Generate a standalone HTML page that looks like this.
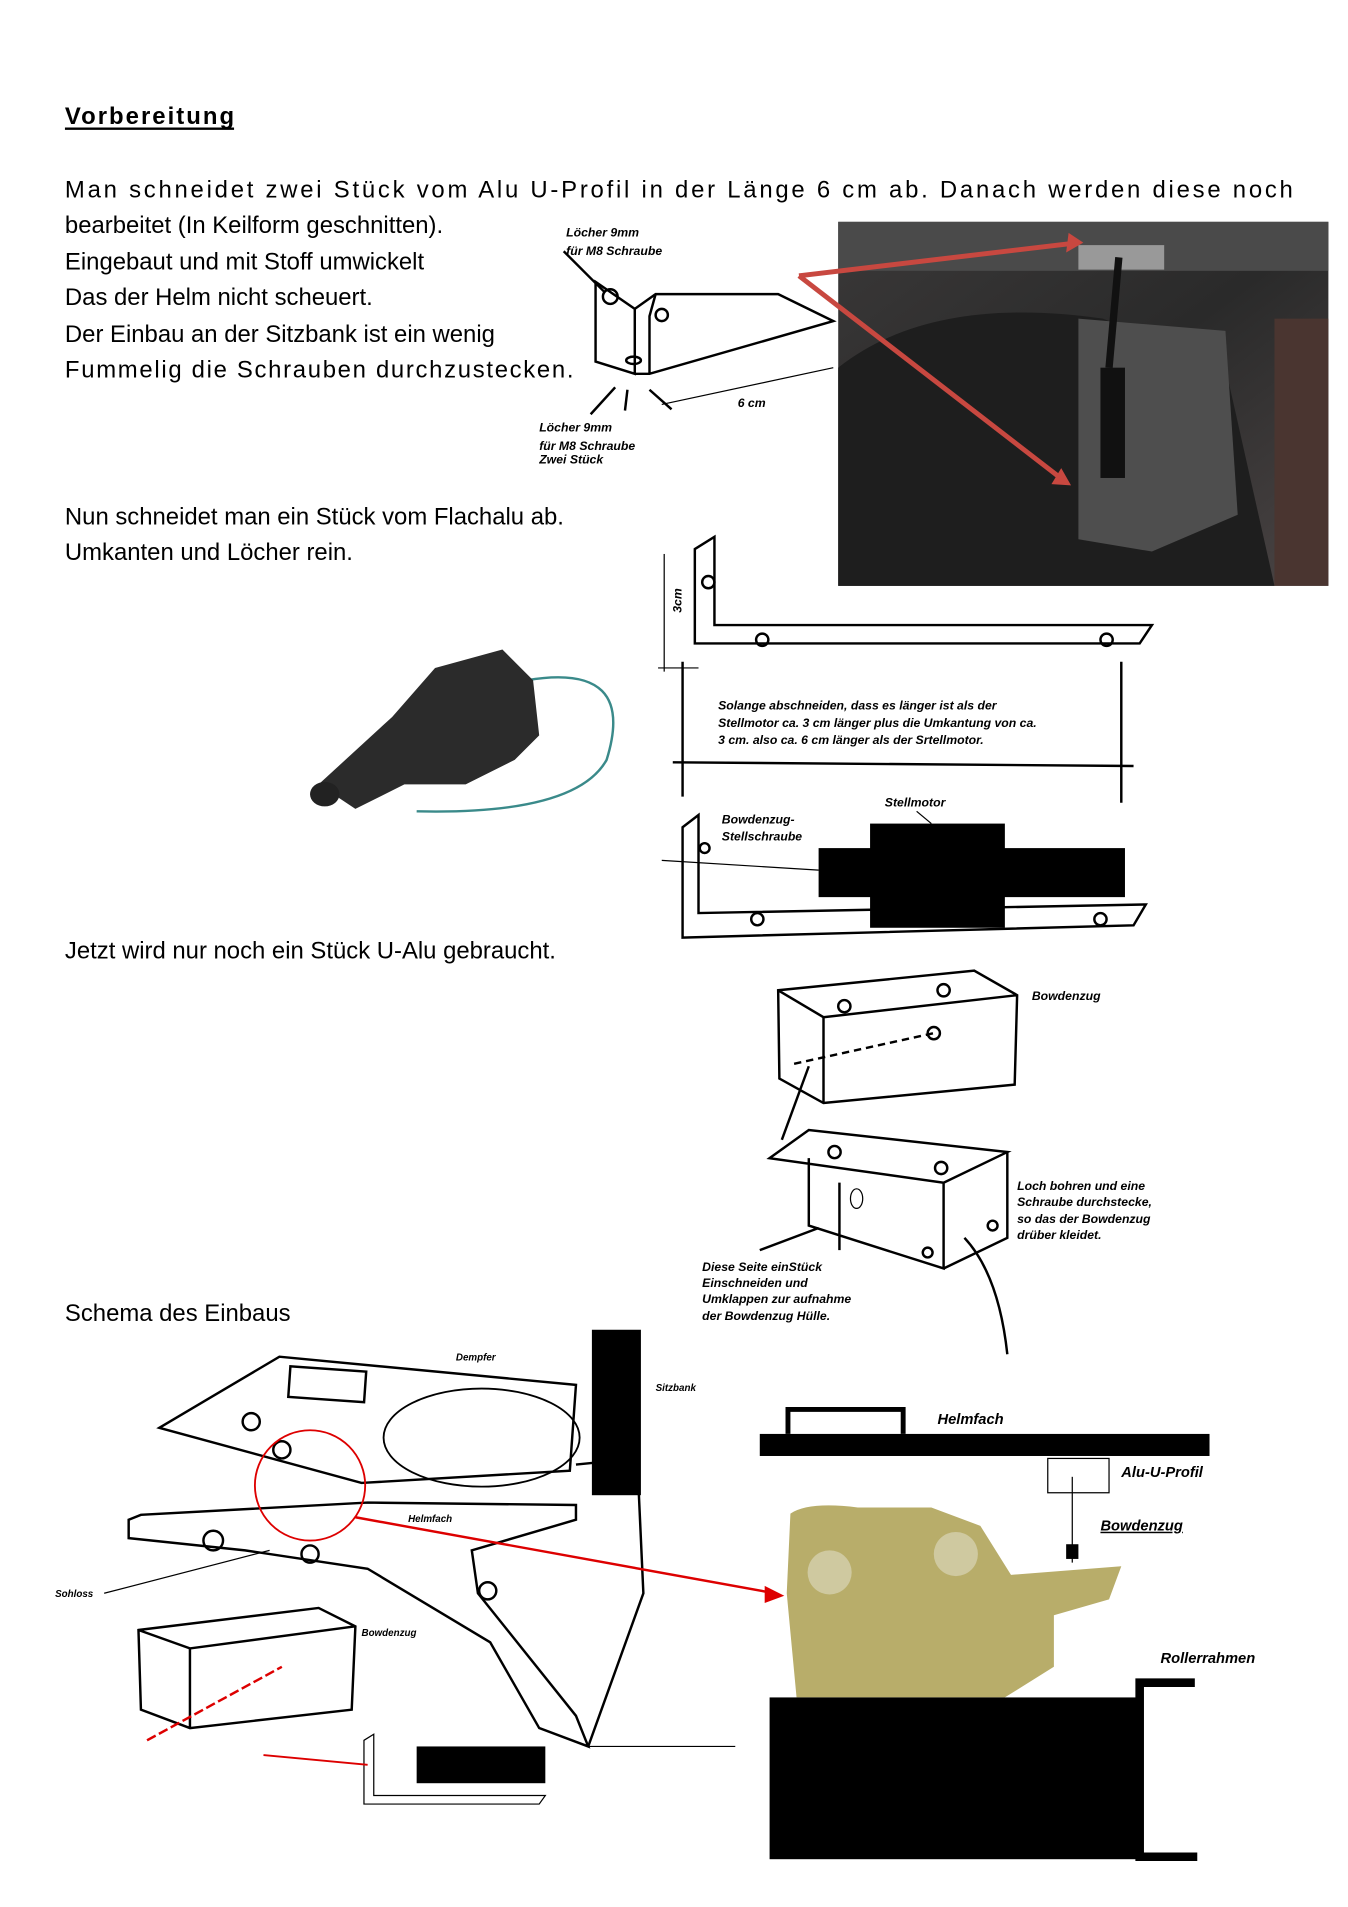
<!DOCTYPE html>
<html><head><meta charset="utf-8"><style>
html,body{margin:0;padding:0;background:#fff}
svg{display:block}
.t{font-family:"Liberation Sans",sans-serif;font-size:19.5px;fill:#000}
.s{font-family:"Liberation Sans",sans-serif;font-size:10px;font-weight:bold;font-style:italic;fill:#000}
.ln{fill:none;stroke:#000;stroke-width:2}
.th{fill:none;stroke:#000;stroke-width:1}
</style></head><body>
<svg width="1348" height="1907" viewBox="0 0 1100 1556" preserveAspectRatio="none" xmlns="http://www.w3.org/2000/svg">
<rect width="1100" height="1556" fill="#fff"/>
<text x="53" y="101" class="t" style="font-weight:bold" textLength="138">Vorbereitung</text>
<line x1="53" y1="105" x2="191" y2="105" stroke="#000" stroke-width="2"/>
<text x="53" y="161" class="t" textLength="1002" lengthAdjust="spacing">Man schneidet zwei Stück vom Alu U-Profil in der Länge 6 cm ab. Danach werden diese noch</text>
<text x="53" y="190" class="t">bearbeitet (In Keilform geschnitten).</text>
<text x="53" y="220" class="t">Eingebaut und mit Stoff umwickelt</text>
<text x="53" y="249" class="t">Das der Helm nicht scheuert.</text>
<text x="53" y="279" class="t">Der Einbau an der Sitzbank ist ein wenig</text>
<text x="53" y="308" class="t" textLength="415">Fummelig die Schrauben durchzustecken.</text>
<text x="462" y="193" class="s">Löcher 9mm</text><text x="462" y="208" class="s">für M8 Schraube</text>
<path class="ln" d="M486 230 L486 295 L518 305 L518 252 Z M518 252 L535 240 L635 240 L680 262 L530 305 L518 305 M530 305 L530 258 L535 240"/>
<circle cx="498" cy="242" r="6" class="ln"/><circle cx="540" cy="257" r="5" class="ln"/><ellipse cx="517" cy="294" rx="6" ry="3" class="ln"/>
<line x1="460" y1="205" x2="493" y2="238" class="ln"/>
<line x1="482" y1="338" x2="502" y2="316" class="ln"/><line x1="510" y1="335" x2="512" y2="318" class="ln"/>
<line x1="530" y1="318" x2="548" y2="334" class="ln"/><line x1="540" y1="330" x2="680" y2="300" class="th"/>
<text x="602" y="332" class="s">6 cm</text>
<text x="440" y="352" class="s">Löcher 9mm</text><text x="440" y="367" class="s">für M8 Schraube</text><text x="440" y="378" class="s">Zwei Stück</text>
<defs><linearGradient id="g1" x1="0" y1="0" x2="1" y2="1"><stop offset="0" stop-color="#3a3838"/><stop offset=".5" stop-color="#2a2a2a"/><stop offset="1" stop-color="#4a4444"/></linearGradient></defs>
<rect x="684" y="181" width="400" height="297" fill="url(#g1)"/>
<rect x="684" y="181" width="400" height="40" fill="#4a4a4a"/>
<path d="M684 300 Q760 240 900 260 L1000 300 L1040 478 L684 478Z" fill="#1e1e1e"/>
<path d="M880 260 L1000 270 L1010 420 L940 450 L880 440Z" fill="#4e4e4e"/>
<rect x="1040" y="260" width="44" height="218" fill="#4a3530"/>
<rect x="880" y="200" width="70" height="20" fill="#999"/>
<rect x="898" y="300" width="20" height="90" fill="#111"/>
<line x1="913" y1="210" x2="905" y2="300" stroke="#111" stroke-width="6"/>
<path d="M652 225 L880 198" stroke="#c84840" stroke-width="4"/><path d="M652 225 L868 392" stroke="#c84840" stroke-width="4"/>
<path d="M872 190 L884 198 L870 206Z M858 395 L874 396 L866 382Z" fill="#c84840"/>
<text x="53" y="428" class="t">Nun schneidet man ein Stück vom Flachalu ab.</text>
<text x="53" y="457" class="t">Umkanten und Löcher rein.</text>
<path d="M430 555 Q520 540 495 620 Q470 665 340 662" fill="none" stroke="#3a8a8a" stroke-width="2"/>
<path d="M260 640 L320 585 L355 545 L410 530 L435 555 L440 600 L420 620 L380 640 L330 640 L290 660 Z" fill="#2b2b2b"/>
<ellipse cx="265" cy="648" rx="12" ry="10" fill="#222"/>
<path class="ln" d="M567 448 L583 438 L583 510 L940 510 L930 525 L567 525 Z M567 448 L567 525"/>
<circle cx="578" cy="475" r="5" class="ln"/><circle cx="622" cy="522" r="5" class="ln"/><circle cx="903" cy="522" r="5" class="ln"/>
<line x1="542" y1="452" x2="542" y2="548" class="th"/><line x1="537" y1="545" x2="570" y2="545" class="th"/>
<text x="556" y="500" class="s" transform="rotate(-90 556 500)">3cm</text>
<line x1="557" y1="540" x2="557" y2="650" class="ln"/><line x1="915" y1="540" x2="915" y2="655" class="ln"/>
<line x1="549" y1="622" x2="925" y2="625" class="ln"/>
<text x="586" y="579" class="s">Solange abschneiden, dass es länger ist als der</text>
<text x="586" y="593" class="s">Stellmotor ca. 3 cm länger plus die Umkantung von ca.</text>
<text x="586" y="607" class="s">3 cm. also ca. 6 cm länger als der Srtellmotor.</text>
<path class="ln" d="M557 675 L570 665 L570 745 L935 738 L925 755 L557 765Z"/>
<circle cx="575" cy="692" r="4" class="ln"/><circle cx="618" cy="750" r="5" class="ln"/><circle cx="898" cy="750" r="5" class="ln"/>
<rect x="710" y="672" width="110" height="85" fill="#000"/><rect x="668" y="692" width="250" height="40" fill="#000"/>
<line x1="540" y1="702" x2="668" y2="710" class="th"/>
<text x="722" y="658" class="s">Stellmotor</text><line x1="748" y1="662" x2="760" y2="672" class="th"/>
<text x="589" y="672" class="s">Bowdenzug-</text><text x="589" y="686" class="s">Stellschraube</text>
<text x="53" y="782" class="t">Jetzt wird nur noch ein Stück U-Alu gebraucht.</text>
<path class="ln" d="M635 808 L795 792 L830 812 L828 885 L672 900 L636 880 Z M635 808 L672 830 L830 812 M672 830 L672 900"/>
<circle cx="689" cy="821" r="5" class="ln"/><circle cx="770" cy="808" r="5" class="ln"/><circle cx="762" cy="843" r="5" class="ln"/>
<line x1="648" y1="868" x2="762" y2="843" stroke="#000" stroke-width="2" stroke-dasharray="6 4"/>
<line x1="638" y1="930" x2="660" y2="870" class="ln"/>
<text x="842" y="816" class="s">Bowdenzug</text>
<path class="ln" d="M628 945 L660 922 L822 940 L770 965 Z M660 945 L660 1000 L770 1035 L770 965 M685 965 L685 1020 M822 940 L822 1010 L770 1035"/>
<circle cx="681" cy="940" r="5" class="ln"/><circle cx="768" cy="953" r="5" class="ln"/><ellipse cx="699" cy="978" rx="5" ry="8" class="th"/>
<circle cx="757" cy="1022" r="4" class="ln"/><circle cx="810" cy="1000" r="4" class="ln"/>
<path class="ln" d="M787 1010 Q815 1040 822 1105"/>
<line x1="620" y1="1020" x2="668" y2="1002" class="ln"/>
<text x="830" y="971" class="s">Loch bohren und eine</text><text x="830" y="984" class="s">Schraube durchstecke,</text><text x="830" y="998" class="s">so das der Bowdenzug</text><text x="830" y="1011" class="s">drüber kleidet.</text>
<text x="573" y="1037" class="s">Diese Seite einStück</text><text x="573" y="1050" class="s">Einschneiden und</text><text x="573" y="1063" class="s">Umklappen zur aufnahme</text><text x="573" y="1077" class="s">der Bowdenzug Hülle.</text>
<text x="53" y="1078" class="t">Schema des Einbaus</text>
<path class="th" style="stroke-width:2" d="M130 1165 L228 1107 L470 1130 L465 1200 L295 1210 Z"/>
<rect x="236" y="1117" width="62" height="25" class="ln" transform="rotate(4 267 1130)"/>
<circle cx="205" cy="1160" r="7" class="ln"/><circle cx="230" cy="1183" r="7" class="ln"/>
<ellipse cx="393" cy="1173" rx="80" ry="40" class="th" style="stroke-width:1.5"/>
<path class="ln" d="M105 1240 L115 1236 L300 1226 L470 1228 L470 1240 L385 1265 L390 1300 L470 1400 L480 1425 L440 1410 L400 1340 L300 1280 L200 1265 L105 1255 Z"/>
<circle cx="174" cy="1257" r="8" class="ln"/><circle cx="253" cy="1268" r="7" class="ln"/><circle cx="398" cy="1298" r="7" class="ln"/>
<path class="ln" d="M470 1195 L520 1190 L525 1300 L480 1425"/>
<rect x="483" y="1085" width="40" height="135" fill="#000"/>
<circle cx="253" cy="1212" r="45" fill="none" stroke="#d00" stroke-width="1.5"/>
<line x1="290" y1="1238" x2="632" y2="1300" stroke="#d00" stroke-width="2"/>
<path d="M640 1302 L624 1294 L624 1308Z" fill="#d00"/>
<text x="372" y="1110" class="s" style="font-size:8px">Dempfer</text><text x="535" y="1135" class="s" style="font-size:8px">Sitzbank</text>
<text x="333" y="1242" class="s" style="font-size:8px">Helmfach</text><text x="45" y="1303" class="s" style="font-size:8px">Sohloss</text>
<line x1="85" y1="1300" x2="220" y2="1265" class="th"/>
<path class="ln" d="M113 1330 L260 1312 L290 1327 L287 1395 L155 1410 L115 1395 Z M113 1330 L155 1345 L290 1327 M155 1345 L155 1410"/>
<text x="295" y="1335" class="s" style="font-size:8px">Bowdenzug</text>
<line x1="120" y1="1420" x2="230" y2="1360" stroke="#d00" stroke-width="2" stroke-dasharray="8 3"/>
<path class="th" d="M297 1420 L305 1415 L305 1465 L445 1465 L440 1472 L297 1472 Z"/>
<rect x="340" y="1425" width="105" height="30" fill="#000"/>
<line x1="215" y1="1432" x2="300" y2="1440" stroke="#d00" stroke-width="1.5"/>
<line x1="480" y1="1425" x2="600" y2="1425" class="th"/>
<rect x="620" y="1170" width="367" height="18" fill="#000"/>
<path d="M643 1170 L643 1150 L737 1150 L737 1170" fill="none" stroke="#000" stroke-width="4"/>
<text x="765" y="1162" class="s" style="font-size:12px">Helmfach</text>
<rect x="855" y="1190" width="50" height="28" class="th"/>
<text x="915" y="1205" class="s" style="font-size:12px">Alu-U-Profil</text>
<text x="898" y="1249" class="s" style="font-size:12px;text-decoration:underline">Bowdenzug</text>
<line x1="875" y1="1205" x2="875" y2="1275" class="th"/>
<rect x="870" y="1260" width="10" height="12" fill="#000"/>
<path d="M645 1235 Q660 1225 700 1230 L760 1230 L800 1245 L825 1285 L915 1278 L905 1305 L860 1318 L860 1360 L820 1385 L650 1385 L642 1300 Z" fill="#b8ad6a"/>
<circle cx="677" cy="1283" r="18" fill="#cfc9a0"/><circle cx="780" cy="1268" r="18" fill="#cfc9a0"/>
<rect x="628" y="1385" width="302" height="132" fill="#000"/>
<path d="M975 1373 L930 1373 L930 1515 L977 1515" fill="none" stroke="#000" stroke-width="7"/>
<text x="947" y="1357" class="s" style="font-size:12px">Rollerrahmen</text>
</svg>
</body></html>
